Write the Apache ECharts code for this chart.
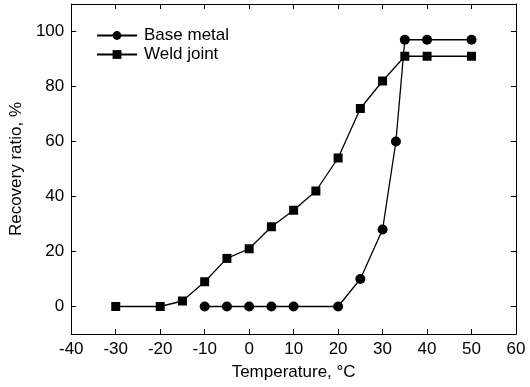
<!DOCTYPE html>
<html>
<head>
<meta charset="utf-8">
<script src="https://cdn.jsdelivr.net/npm/echarts@6/dist/echarts.min.js"></script>
<style>html,body{margin:0;padding:0;background:#fff}#c{width:530px;height:387px}</style>
</head>
<body>
<div id="c"></div>
<script>
var tempBase = [-10, -5, 0, 5, 10, 20, 25, 30, 33, 35, 40, 50];
var recBase = [0, 0, 0, 0, 0, 0, 10, 28, 60, 97, 97, 97];
var tempWeld = [-30, -20, -15, -10, -5, 0, 5, 10, 15, 20, 25, 30, 35, 40, 50];
var recWeld = [0, 0, 2, 9, 17.5, 21, 29, 35, 42, 54, 72, 82, 91, 91, 91];
var yTicks = [0, 20, 40, 60, 80, 100];
var seriesNames = ['Base metal', 'Weld joint'];

function pairs(xs, ys) { return xs.map(function (x, i) { return [x, ys[i]]; }); }

var font = 'Liberation Sans, Arial, sans-serif';
var fs = 17;
var axisLine = { show: true, onZero: false, lineStyle: { color: '#000', width: 1 } };
var tick = { show: true, inside: true, length: 5, lineStyle: { color: '#000' } };
var chart = echarts.init(document.getElementById('c'));
chart.setOption({
  animation: false,
  backgroundColor: '#fff',
  grid: { left: 69, right: 14, top: 4, bottom: 53, containLabel: false },
  legend: {
    data: seriesNames,
    orient: 'vertical',
    left: 96,
    top: 27,
    padding: 0,
    itemWidth: 40,
    itemHeight: 11,
    itemGap: 2,
    textStyle: { fontFamily: font, fontSize: fs, color: '#000', padding: [0, 0, 0, 2] }
  },
  xAxis: [{
    type: 'value', min: -40, max: 60, interval: 10, position: 'bottom',
    name: 'Temperature, °C', nameLocation: 'middle', nameGap: 30,
    nameTextStyle: { fontFamily: font, fontSize: fs, color: '#000' },
    axisLine: axisLine,
    axisTick: tick,
    axisLabel: { fontFamily: font, fontSize: fs, color: '#000', margin: 7 },
    splitLine: { show: false }
  }, {
    type: 'value', min: -40, max: 60, interval: 10, position: 'top',
    axisLine: axisLine,
    axisTick: tick,
    axisLabel: { show: false }, splitLine: { show: false }
  }],
  yAxis: [{
    type: 'value', min: -10, max: 110, position: 'left',
    name: 'Recovery ratio, %', nameLocation: 'middle', nameGap: 39,
    nameTextStyle: { fontFamily: font, fontSize: fs, color: '#000' },
    axisLine: axisLine,
    axisTick: Object.assign({ customValues: yTicks }, tick),
    axisLabel: { fontFamily: font, fontSize: fs, color: '#000', margin: 7, customValues: yTicks },
    splitLine: { show: false }
  }, {
    type: 'value', min: -10, max: 110, position: 'right',
    axisLine: axisLine,
    axisTick: Object.assign({ customValues: yTicks }, tick),
    axisLabel: { show: false, customValues: yTicks }, splitLine: { show: false }
  }],
  series: [{
    name: seriesNames[0], type: 'line', xAxisIndex: 0, yAxisIndex: 0,
    data: pairs(tempBase, recBase),
    symbol: 'circle', symbolSize: 10,
    lineStyle: { color: '#000', width: 1.3 },
    itemStyle: { color: '#000' }
  }, {
    name: seriesNames[1], type: 'line', xAxisIndex: 0, yAxisIndex: 0,
    data: pairs(tempWeld, recWeld),
    symbol: 'rect', symbolSize: 9,
    lineStyle: { color: '#000', width: 1.3 },
    itemStyle: { color: '#000' }
  }]
});
</script>
</body>
</html>
